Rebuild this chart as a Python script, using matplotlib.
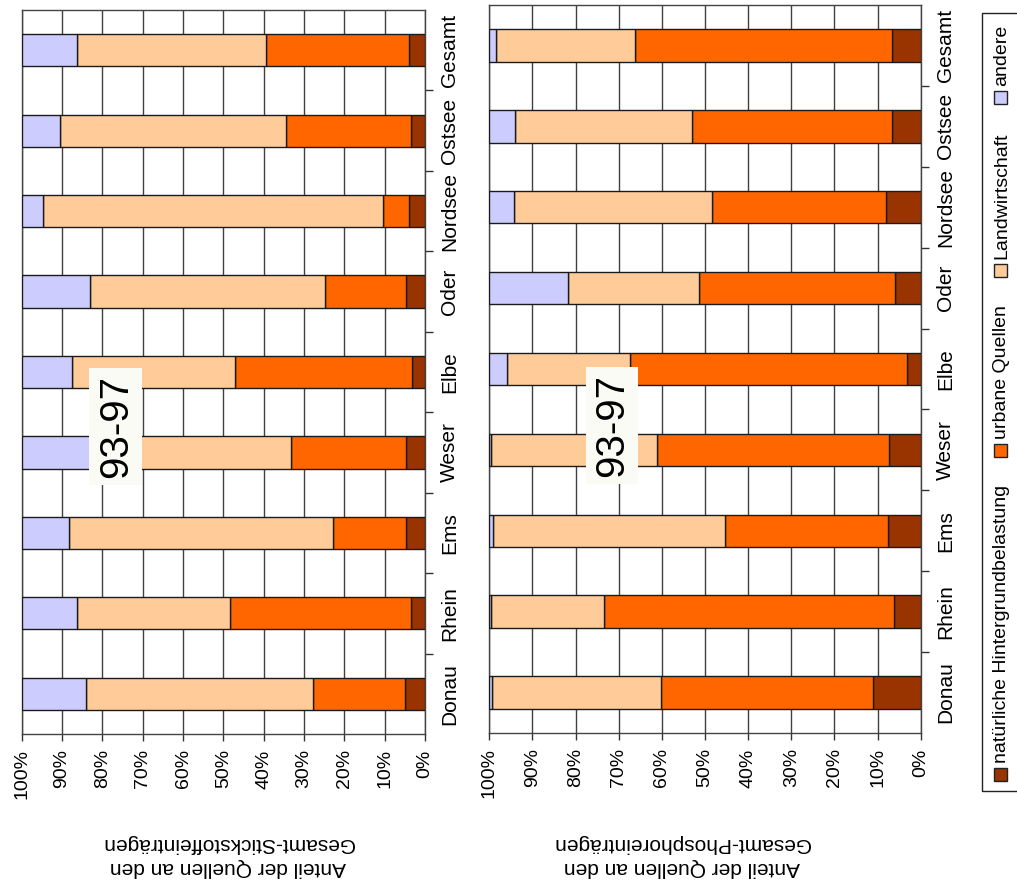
import matplotlib
matplotlib.use("Agg")
import matplotlib.pyplot as plt
from matplotlib.patches import Rectangle
from matplotlib.ticker import FuncFormatter, MultipleLocator, FixedLocator
import numpy as np

plt.rcParams['font.family'] = ['Liberation Sans', 'DejaVu Sans']

# Regions (bottom to top)
regions = ["Donau", "Rhein", "Ems", "Weser", "Elbe", "Oder", "Nordsee", "Ostsee", "Gesamt"]

# Source categories, stacked from 0 % outward
sources = ["natürliche Hintergrundbelastung", "urbane Quellen", "Landwirtschaft", "andere"]
colors = ["#993300", "#FF6600", "#FFCC99", "#CCCCFF"]

# Shares of total nitrogen inputs (%)
n_natural = [5.0, 3.5, 4.8, 4.8, 3.2, 4.8, 3.9, 3.5, 3.9]
n_urban = [22.7, 44.8, 18.0, 28.5, 43.8, 20.1, 6.6, 31.0, 35.6]
n_agri = [56.3, 38.0, 65.5, 49.7, 40.5, 58.2, 84.2, 55.9, 46.8]
n_other = [16.0, 13.7, 11.7, 17.0, 12.5, 16.9, 5.3, 9.6, 13.7]

# Shares of total phosphorus inputs (%)
p_natural = [11.0, 6.3, 7.5, 7.3, 3.2, 6.0, 8.0, 6.6, 6.6]
p_urban = [49.3, 67.1, 37.9, 53.9, 64.3, 45.3, 40.3, 46.3, 59.6]
p_agri = [39.0, 26.2, 53.7, 38.4, 28.3, 30.5, 46.0, 41.1, 32.3]
p_other = [0.7, 0.4, 0.9, 0.4, 4.2, 18.2, 5.7, 6.0, 1.5]

period_label = "93-97"
title_line1 = "Anteil der Quellen an den"
n_title_line2 = "Gesamt-Stickstoffeinträgen"
p_title_line2 = "Gesamt-Phosphoreinträgen"

W, H = 1017, 888
fig = plt.figure(figsize=(W / 100, H / 100), dpi=100)
fig.patch.set_facecolor("white")


def px_rect(x0, y0, x1, y1):
    return [x0 / W, 1 - y1 / H, (x1 - x0) / W, (y1 - y0) / H]


def draw_panel(ax, series, label_pos):
    y = np.arange(len(regions))
    left = np.zeros(len(regions))
    for vals, col in zip(series, colors):
        vals = np.asarray(vals)
        ax.barh(y, vals, left=left, height=0.4, color=col,
                edgecolor="#1a1a1a", linewidth=1.0, zorder=3)
        left += vals
    ax.set_xlim(100, 0)
    ax.set_ylim(-0.5, len(regions) - 0.5)
    ax.xaxis.set_major_locator(MultipleLocator(10))
    ax.xaxis.set_major_formatter(FuncFormatter(lambda v, p: f"{v:.0f}%"))
    ax.xaxis.grid(True, color="#404040", linewidth=1.0, zorder=1)
    ax.set_axisbelow(True)
    ax.tick_params(axis="x", direction="out", length=5, width=1,
                   color="#333333", pad=6, labelsize=14, labelrotation=90)
    ax.yaxis.tick_right()
    ax.set_yticks(y)
    ax.set_yticklabels(regions, rotation=90, va="center", ha="left", fontsize=15)
    ax.yaxis.set_minor_locator(FixedLocator(np.arange(0.5, len(regions) - 1, 1.0)))
    ax.tick_params(axis="y", which="major", length=0, pad=11)
    ax.tick_params(axis="y", which="minor", direction="out", length=6,
                   width=1, color="#333333")
    for s in ax.spines.values():
        s.set_color("#444444")
        s.set_linewidth(1.0)
    ax.text(label_pos[0], label_pos[1], period_label, rotation=90, fontsize=29,
            ha="center", va="center", zorder=6,
            bbox=dict(boxstyle="square,pad=0.18", fc="#FBFBF6", ec="none"))


ax_n = fig.add_axes(px_rect(21.7, 10, 425, 734))
draw_panel(ax_n, [n_natural, n_urban, n_agri, n_other], (76.7, 3.32))

ax_p = fig.add_axes(px_rect(489.3, 5, 920.7, 733))
draw_panel(ax_p, [p_natural, p_urban, p_agri, p_other], (71.6, 3.30))

# Axis titles (upside-down, as on the rotated page)
for cx, line2 in [(228, n_title_line2), (682, p_title_line2)]:
    fig.text(cx / W, 1 - 867 / H, title_line1, rotation=180,
             ha="center", va="center", fontsize=15)
    fig.text(cx / W, 1 - 843 / H, line2, rotation=180,
             ha="center", va="center", fontsize=15)

# Legend drawn along the right edge, entries reading bottom to top
fig.add_artist(Rectangle((982 / W, 1 - 791 / H), 50 / W, (791 - 13) / H,
                         transform=fig.transFigure, fill=False,
                         edgecolor="#222222", linewidth=1.0, clip_on=False))
fig.canvas.draw()
renderer = fig.canvas.get_renderer()
sq = 13
cx = 1000.5
square_bottom = 781.0
for name, col in zip(sources, colors):
    fig.add_artist(Rectangle(((cx - sq / 2) / W, 1 - square_bottom / H),
                             sq / W, sq / H, transform=fig.transFigure,
                             facecolor=col, edgecolor="#222222", linewidth=1.0))
    text_bottom = square_bottom - sq - 5
    t = fig.text((cx + 1) / W, 1 - text_bottom / H, name, rotation=90,
                 ha="center", va="bottom", fontsize=14)
    bb = t.get_window_extent(renderer)
    text_top = H - bb.y1
    square_bottom = text_top - 28

fig.savefig("out.png", dpi=100, facecolor="white")
